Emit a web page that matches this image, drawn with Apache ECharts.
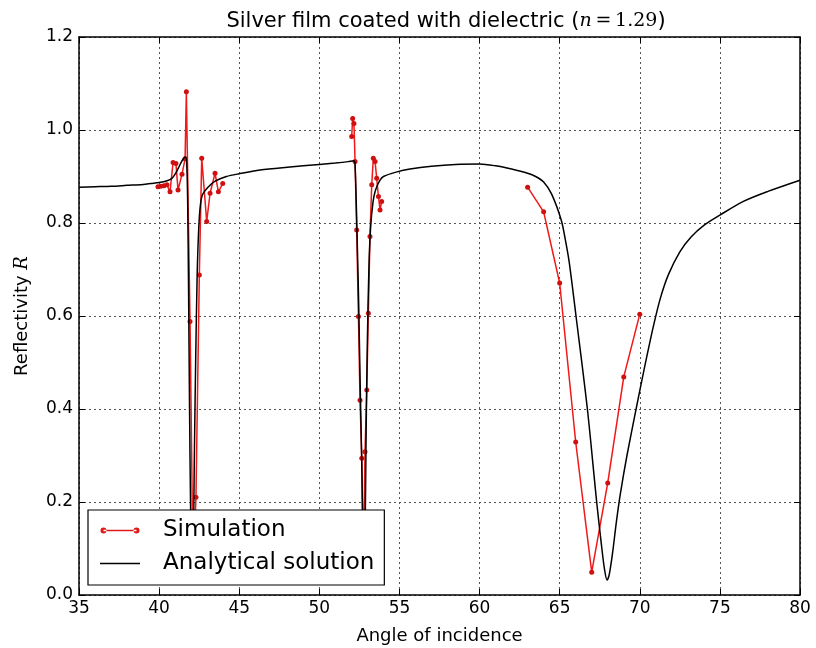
<!DOCTYPE html>
<html>
<head>
<meta charset="utf-8">
<script src="https://cdn.jsdelivr.net/npm/echarts@6/dist/echarts.min.js"></script>
<style>html,body{margin:0;padding:0;background:#fff}#c{width:816px;height:648px}</style>
</head>
<body>
<div id="c"></div>
<script>
// Simulation (red dots); null separates the three measured groups
const simAngle = [39.93, 40.1, 40.3, 40.49, 40.68, 40.87, 41.05, 41.18, 41.43, 41.62, 41.7, 41.93, 42.12, 42.3, 42.51, 42.66, 42.97, 43.18, 43.49, 43.7, 43.97,
  null,
  52.02, 52.08, 52.16, 52.23, 52.33, 52.44, 52.54, 52.65, 52.75, 52.85, 52.96, 53.06, 53.16, 53.27, 53.37, 53.48, 53.58, 53.69, 53.79, 53.89,
  null,
  63, 64, 65, 66, 67, 68, 69, 70];
const simR = [0.878, 0.879, 0.88, 0.882, 0.867, 0.93, 0.928, 0.871, 0.905, 0.938, 1.082, 0.588, 0.05, 0.21, 0.688, 0.939, 0.803, 0.864, 0.907, 0.867, 0.885,
  null,
  0.986, 1.025, 1.014, 0.932, 0.785, 0.599, 0.419, 0.294, 0.05, 0.308, 0.441, 0.606, 0.771, 0.882, 0.939, 0.932, 0.896, 0.857, 0.828, 0.846,
  null,
  0.877, 0.824, 0.671, 0.329, 0.049, 0.241, 0.469, 0.604];

// Analytical solution (black line)
const anaAngle = [35, 36, 37, 38, 39, 39.5, 40, 40.5, 40.8, 41.0, 41.2, 41.4, 41.55, 41.65, 41.72, 41.78, 41.84, 41.9, 41.96, 42.02, 42.08, 42.14, 42.2, 42.28, 42.37, 42.45, 42.55, 42.7, 43.05, 43.5, 44.2, 45, 46.3, 48, 50, 51, 51.8, 52.15, 52.22, 52.3, 52.38, 52.46, 52.55, 52.65, 52.72, 52.78, 52.85, 52.92, 53.0, 53.1, 53.2, 53.35, 53.5, 53.75, 54, 54.85, 55.66, 57, 58.5, 60, 61, 62, 63, 63.5, 64, 64.5, 65.1, 65.35, 65.6, 66.02, 66.73, 67.31, 67.6, 67.8, 67.96, 68.1, 68.3, 68.55, 68.8, 69.2, 69.8, 70.3, 70.83, 71.3, 71.8, 72.5, 73.2, 74, 75, 76.5, 78, 80];
const anaR = [0.877, 0.878, 0.879, 0.881, 0.883, 0.885, 0.887, 0.891, 0.896, 0.905, 0.918, 0.932, 0.94, 0.942, 0.93, 0.85, 0.65, 0.4, 0.2, 0.07, 0.05, 0.12, 0.3, 0.5, 0.68, 0.77, 0.83, 0.86, 0.877, 0.89, 0.9, 0.906, 0.914, 0.92, 0.926, 0.929, 0.932, 0.934, 0.93, 0.85, 0.74, 0.62, 0.45, 0.28, 0.12, 0.05, 0.12, 0.35, 0.55, 0.71, 0.79, 0.845, 0.87, 0.89, 0.9, 0.91, 0.916, 0.922, 0.926, 0.927, 0.923, 0.916, 0.907, 0.9, 0.888, 0.862, 0.806, 0.765, 0.715, 0.6, 0.4, 0.2, 0.11, 0.055, 0.032, 0.045, 0.09, 0.16, 0.22, 0.3, 0.405, 0.49, 0.575, 0.64, 0.69, 0.738, 0.77, 0.795, 0.817, 0.847, 0.868, 0.892];

const xTicks = [35, 40, 45, 50, 55, 60, 65, 70, 75, 80];
const yTicks = ['0.0', '0.2', '0.4', '0.6', '0.8', '1.0', '1.2'];

const simData = simAngle.map((a, i) => (a === null ? ['-', '-'] : [a, simR[i]]));
const anaData = anaAngle.map((a, i) => [a, anaR[i]]);

const FONT = 'DejaVu Sans';
const corner = 'M0,0h0.01v0.01h-0.01z M39.99,11.99h0.01v0.01h-0.01z ';
const simIcon = 'path://' + corner + 'M0.5,6a3,3 0 1,0 6,0a3,3 0 1,0 -6,0z M33.5,6a3,3 0 1,0 6,0a3,3 0 1,0 -6,0z M3.5,5.3h33v1.4h-33z';
const anaIcon = 'path://' + corner + 'M0,5.3h40v1.4h-40z';

const chart = echarts.init(document.getElementById('c'), null, {renderer: 'canvas'});
const axisCommon = {
  axisLine: {show: true, onZero: false, lineStyle: {color: '#000', width: 1.5}},
  axisTick: {show: true, inside: true, length: 6, lineStyle: {color: '#000', width: 1}}
};
chart.setOption({
  animation: false,
  backgroundColor: '#fff',
  title: {
    text: 'Silver film coated with dielectric ({m|n}{r|\u2009=\u20091.29})',
    left: 441, textAlign: 'center', top: 6,
    textStyle: {
      fontFamily: FONT, fontSize: 21, fontWeight: 'normal', color: '#000',
      rich: {
        m: {fontFamily: 'DejaVu Serif', fontStyle: 'italic', fontSize: 19, color: '#000'},
        r: {fontFamily: 'DejaVu Serif', fontSize: 19, color: '#000'}
      }
    }
  },
  grid: {left: 79, right: 16, top: 37, bottom: 53, containLabel: false, outerBoundsMode: 'none'},
  legend: {
    left: 88, top: 510, orient: 'vertical',
    backgroundColor: '#fff', borderColor: '#000', borderWidth: 1.2, borderRadius: 0,
    padding: [9, 10, 10, 12], itemWidth: 40, itemHeight: 12, itemGap: 10,
    textStyle: {fontFamily: FONT, fontSize: 23, color: '#000', padding: [0, 0, 0, 18]},
    data: [
      {name: 'Simulation', icon: simIcon, itemStyle: {color: '#e01818'}},
      {name: 'Analytical solution', icon: anaIcon, itemStyle: {color: '#000'}}
    ],
    z: 20
  },
  xAxis: [
    Object.assign({}, axisCommon, {
      type: 'value', min: 35, max: 80, interval: 5, position: 'bottom',
      name: 'Angle of incidence', nameLocation: 'middle', nameGap: 32,
      nameTextStyle: {fontFamily: FONT, fontSize: 18, color: '#000'},
      axisLabel: {fontFamily: FONT, fontSize: 17, color: '#000', margin: 5,
        formatter: v => (xTicks.indexOf(v) >= 0 ? String(v) : '')},
      splitLine: {show: true, lineStyle: {color: '#555', type: [2, 3], width: 1}}
    }),
    Object.assign({}, axisCommon, {
      type: 'value', min: 35, max: 80, interval: 5, position: 'top',
      axisLabel: {show: false}, splitLine: {show: false}
    })
  ],
  yAxis: [
    Object.assign({}, axisCommon, {
      type: 'value', min: 0, max: 1.2, interval: 0.2, position: 'left',
      name: 'Reflectivity {i|R}', nameLocation: 'middle', nameGap: 48, nameRotate: 90,
      nameTextStyle: {fontFamily: FONT, fontSize: 18, color: '#000',
        rich: {i: {fontFamily: 'DejaVu Serif', fontStyle: 'italic', fontSize: 18, color: '#000'}}},
      axisLabel: {fontFamily: FONT, fontSize: 17, color: '#000', margin: 6,
        formatter: v => yTicks[Math.round(v / 0.2)] || ''},
      splitLine: {show: true, lineStyle: {color: '#555', type: [2, 3], width: 1}}
    }),
    Object.assign({}, axisCommon, {
      type: 'value', min: 0, max: 1.2, interval: 0.2, position: 'right',
      axisLabel: {show: false}, splitLine: {show: false}
    })
  ],
  series: [
    {
      name: 'Simulation', type: 'line', data: simData, connectNulls: false,
      symbol: 'circle', symbolSize: 5, showSymbol: true,
      lineStyle: {color: '#f01818', width: 1.5},
      itemStyle: {color: '#d01010'},
      z: 3
    },
    {
      name: 'Analytical solution', type: 'line', data: anaData,
      symbol: 'none', smooth: 0.3,
      lineStyle: {color: '#000', width: 1.5},
      itemStyle: {color: '#000'},
      z: 4
    }
  ]
});
</script>
</body>
</html>
